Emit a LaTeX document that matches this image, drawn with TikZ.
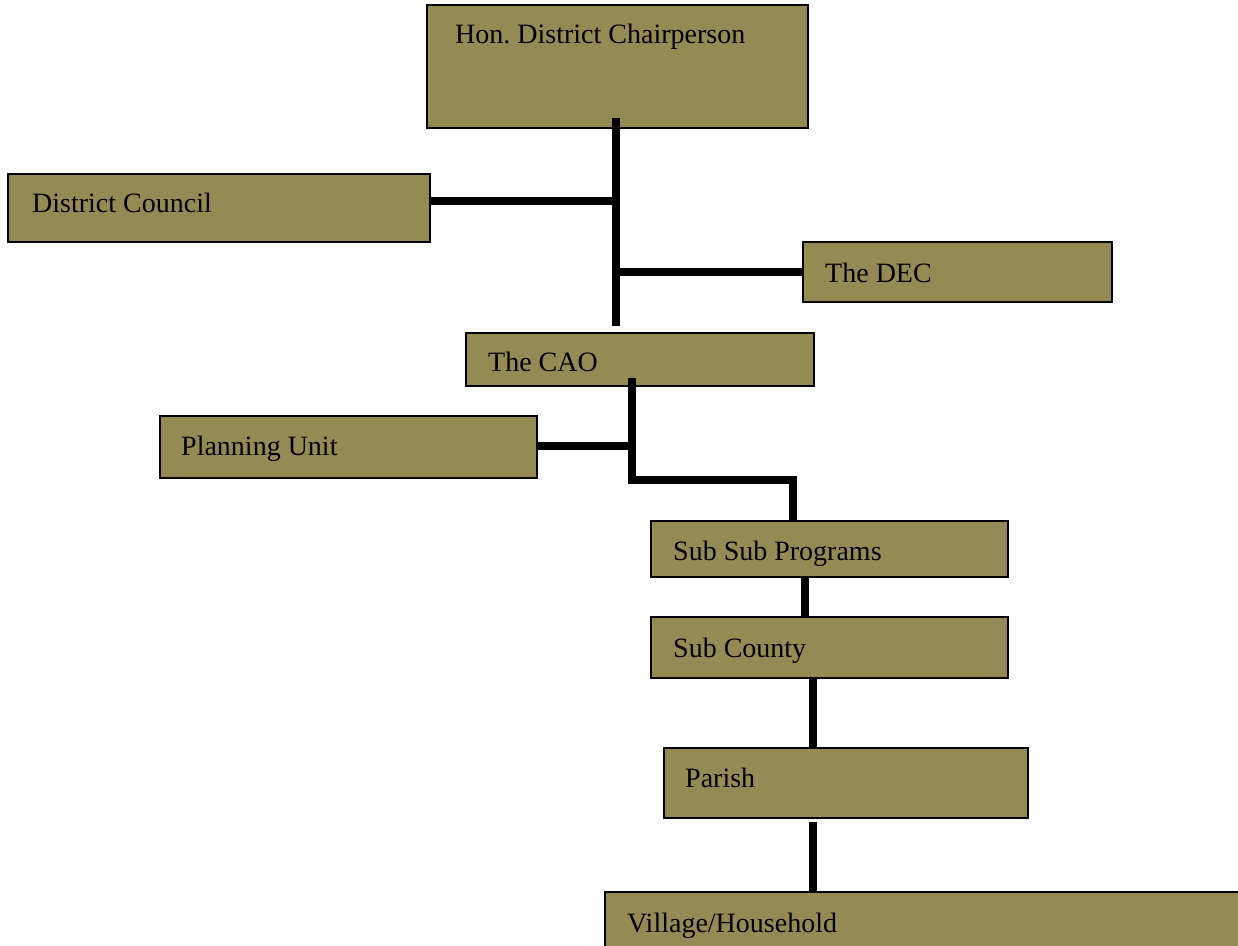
\documentclass[tikz,border=0pt]{standalone}
\usepackage{fontspec}
\setmainfont{Liberation Serif}
\definecolor{boxolive}{HTML}{948A54}
\begin{document}
\begin{tikzpicture}[x=1pt,y=-1pt,
  box/.style={draw=black,line width=1.5pt,fill=boxolive,inner sep=0pt,outer sep=0pt,anchor=north west},
  lbl/.style={anchor=base west,inner sep=0pt,font=\fontsize{28}{34}\selectfont},
  conn/.style={line width=8pt,draw=black}]
\useasboundingbox (0,0) rectangle (1238,945);
% boxes
\node[box,minimum width=381pt,minimum height=123pt] (chair) at (427,5) {};
\node[box,minimum width=422pt,minimum height=68pt] (dc) at (8,174) {};
\node[box,minimum width=309pt,minimum height=60pt] (dec) at (803,242) {};
\node[box,minimum width=348pt,minimum height=53pt] (cao) at (466,333) {};
\node[box,minimum width=377pt,minimum height=62pt] (pu) at (160,416) {};
\node[box,minimum width=357pt,minimum height=56pt] (ssp) at (651,521) {};
\node[box,minimum width=357pt,minimum height=61pt] (sc) at (651,617) {};
\node[box,minimum width=364pt,minimum height=70pt] (par) at (664,748) {};
\node[box,minimum width=640pt,minimum height=60pt] (vh) at (605,892) {};
% labels
\node[lbl] (tchair) at (455,43) {Hon.\ District Chairperson};
\node[lbl] (tdc) at (32,212) {District Council};
\node[lbl] (tdec) at (825,282) {The DEC};
\node[lbl] (tcao) at (488,371) {The CAO};
\node[lbl] (tpu) at (181,455) {Planning Unit};
\node[lbl] (tssp) at (673,560) {Sub Sub Programs};
\node[lbl] (tsc) at (673,657) {Sub County};
\node[lbl] (tpar) at (685,787) {Parish};
\node[lbl] (tvh) at (627,932) {Village/Household};
% junction coordinates
\coordinate (a1) at (616,118);
\coordinate (a2) at (616,326);
\coordinate (jdc) at (616,201);
\coordinate (jdec) at (616,272);
\coordinate (b1) at (632,378);
\coordinate (b2) at (632,480);
\coordinate (jpu) at (632,446);
\coordinate (c1) at (628,480);
\coordinate (c2) at (793,480);
% connectors
\draw[conn] (a1) -- (a2);
\draw[conn] (dc.east |- jdc) -- (jdc);
\draw[conn] (jdec) -- (dec.west |- jdec);
\draw[conn] (b1) -- (b2);
\draw[conn] (pu.east |- jpu) -- (jpu);
\draw[conn] (c1) -- (c2) -- (c2 |- ssp.north);
\draw[conn] (805,577) -- (805,617);
\draw[conn] (813,678) -- (813,748);
\draw[conn] (813,822) -- (813,892);
\end{tikzpicture}
\end{document}
